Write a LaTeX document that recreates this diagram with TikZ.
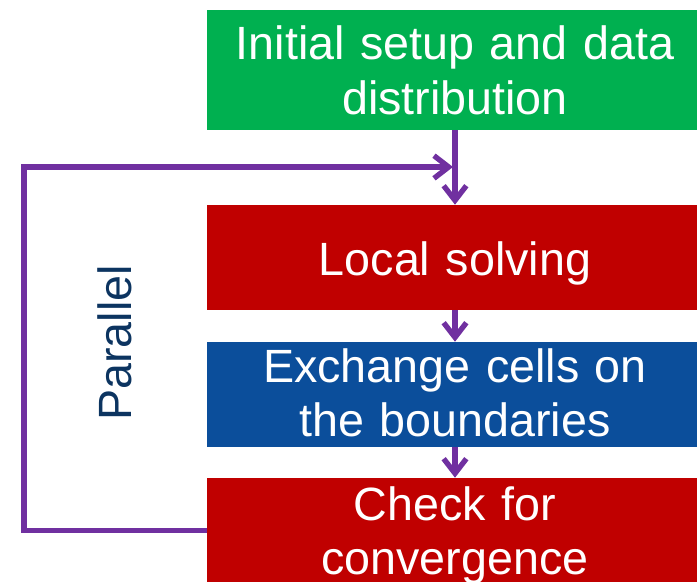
\documentclass[tikz,border=0pt]{standalone}
\usepackage{fontspec}
\setmainfont{Liberation Sans}
\usepackage{xcolor}
\usetikzlibrary{positioning, arrows.meta}
\definecolor{stepgreen}{RGB}{0,176,80}
\definecolor{stepred}{RGB}{192,0,0}
\definecolor{stepblue}{RGB}{11,78,155}
\definecolor{looppurple}{RGB}{112,48,160}
\definecolor{labelnavy}{RGB}{12,52,96}
\tikzstyle{flow} = [line width=4pt, looppurple, -{Straight Barb[length=11pt, width=17pt, line width=4pt]}]

\begin{document}
\begin{tikzpicture}[x=0.75pt, y=-0.75pt,
    stepbox/.style={rectangle, minimum width=372pt, text width=360pt, align=center, inner sep=0pt, text=white, font=\fontsize{35}{41}\selectfont},
    label/.style={font=\fontsize{35}{41}\selectfont, text=labelnavy}]
    \useasboundingbox (0,0) rectangle (697,582);
    \clip (0,0) rectangle (697,582);

    % Steps
    \node[stepbox, fill=stepgreen, minimum height=90pt] (init) at (455,70) {Initial setup and data\\distribution};
    \node[stepbox, fill=stepred, minimum height=78.75pt, text height=27.6pt, text depth=0pt] (solve) at (455,257.5) {Local solving};
    \node[stepbox, fill=stepblue, minimum height=78.75pt, text depth=44pt] (exchange) at (455,394.5) {Exchange cells on\\the boundaries};
    \node[stepbox, fill=stepred, minimum height=78.75pt, text depth=41pt] (check) at (455,530.5) {Check for\\convergence};

    % Loop label
    \node[label, rotate=90] (parallel) at (115,343) {Parallel};

    % Arrows
    \draw[flow] (init.south) -- (solve.north);
    \draw[flow] (solve.south) -- (exchange.north);
    \draw[flow] (exchange.south) -- (check.north);

    % Loop back
    \coordinate (corner) at (24,167);
    \coordinate (join) at (453,167);
    \draw[flow, line join=miter] (check.west) -| (corner) -- (join);

\end{tikzpicture}
\end{document}
